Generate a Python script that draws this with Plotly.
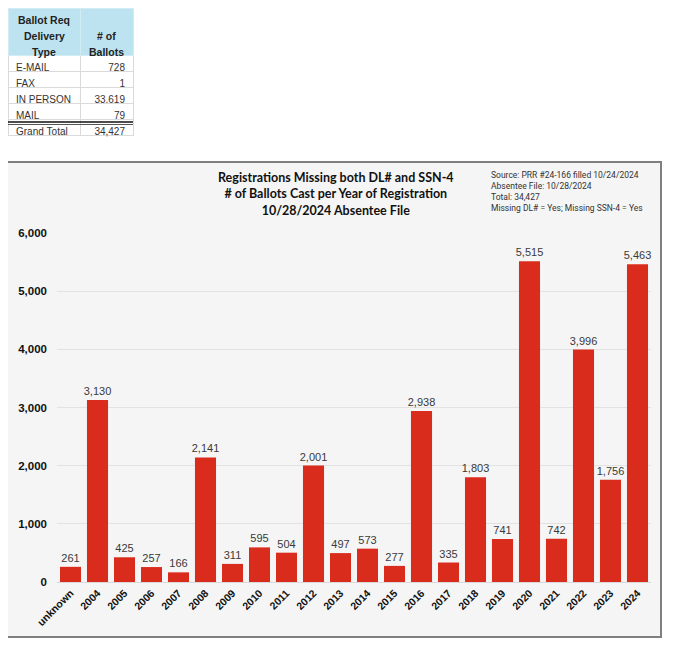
import plotly.graph_objects as go

W, H = 675, 647
OFF = 8  # page body margin offset (screen px)

# ---- data ----
years = ["unknown", "2004", "2005", "2006", "2007", "2008", "2009", "2010", "2011",
         "2012", "2013", "2014", "2015", "2016", "2017", "2018", "2019", "2020",
         "2021", "2022", "2023", "2024"]
ballots = [261, 3130, 425, 257, 166, 2141, 311, 595, 504, 2001, 497, 573, 277,
           2938, 335, 1803, 741, 5515, 742, 3996, 1756, 5463]
y_ticks = [0, 1000, 2000, 3000, 4000, 5000, 6000]

delivery_types = ["E-MAIL", "FAX", "IN\u00a0PERSON", "MAIL", "Grand\u00a0Total"]
delivery_counts = [728, 1, 33619, 79, 34427]
table_headers = ["Ballot Req<br>Delivery<br>Type", "# of<br>Ballots"]

title_lines = ["Registrations Missing both DL# and SSN-4",
               "# of Ballots Cast per Year of Registration",
               "10/28/2024 Absentee File"]
source_lines = ["Source: PRR #24-166 filled 10/24/2024",
                "Absentee File: 10/28/2024",
                "Total: 34,427",
                "Missing DL# = Yes; Missing SSN-4 = Yes"]


def px_x(v):
    return (v - OFF) / W


def px_y(v):
    return 1 - (v - OFF) / H


# table geometry (screen px)
TBL_LEFT, TBL_TOP = 8, 8
COL_W = [72, 53]
HDR_H = 47
ROW_H = 16
tbl_right = TBL_LEFT + sum(COL_W)
dbl_y = TBL_TOP + HDR_H + (len(delivery_types) - 1) * ROW_H + 3

fig = go.Figure()

fig.add_trace(go.Bar(
    x=years, y=ballots,
    marker=dict(color="#DA2C1D", line=dict(width=0)),
    texttemplate="%{y:,}", textposition="outside", constraintext="none",
    textfont=dict(family="Liberation Sans, Arial, sans-serif", size=11, color="#3a3a3a"),
    cliponaxis=False, hoverinfo="x+y",
))

fig.add_trace(go.Table(
    domain=dict(x=[px_x(TBL_LEFT), px_x(tbl_right)], y=[px_y(150), px_y(TBL_TOP)]),
    columnwidth=COL_W,
    header=dict(
        values=["" for _ in table_headers],
        fill_color="#BDE3F1",
        line_color="#D3EBF4",
        height=HDR_H,
    ),
    cells=dict(
        values=[delivery_types, delivery_counts],
        format=[None, ","],
        fill_color="white",
        line_color="#DADADA",
        align=["left", "right"],
        font=dict(family="Liberation Sans, Arial, sans-serif", size=10, color="#333333"),
        height=ROW_H,
    ),
))

# header labels: centred per line, bottom aligned like the spreadsheet
annotations = []
col_left = TBL_LEFT
for hdr, cw in zip(table_headers, COL_W):
    parts = hdr.split("<br>")
    for k, part in enumerate(reversed(parts)):
        annotations.append(dict(
            text=part, xref="paper", yref="paper",
            x=px_x(col_left + cw / 2), y=px_y(TBL_TOP + HDR_H - 3 - 16 * k),
            xanchor="center", yanchor="middle", showarrow=False,
            font=dict(family="Liberation Sans, Arial, sans-serif", size=10.5,
                      color="#222222", weight="bold")))
    col_left += cw

annotations += [
    dict(text="<br>".join(title_lines), xref="paper", yref="paper",
         x=px_x(336), y=px_y(168), xanchor="center", yanchor="top",
         align="center", showarrow=False,
         font=dict(family="Lato, sans-serif", size=12.5, color="#111111", weight="bold")),
    dict(text="<br>".join(source_lines), xref="paper", yref="paper",
         x=px_x(489), y=px_y(168), xanchor="left", yanchor="top",
         align="left", showarrow=False,
         font=dict(family="Roboto, sans-serif", size=8.5, color="#333333")),
]

fig.update_layout(
    width=W, height=H, autosize=False,
    margin=dict(l=0, r=0, t=0, b=0, pad=0, autoexpand=False),
    paper_bgcolor="white",
    plot_bgcolor="rgba(0,0,0,0)",
    showlegend=False,
    bargap=0.22,
    font=dict(family="Liberation Sans, Arial, sans-serif", color="#222222"),
    xaxis=dict(
        domain=[px_x(57), px_x(651)],
        automargin=False,
        tickangle=-45,
        tickfont=dict(size=10.5, color="#111111", weight="bold"),
        showgrid=False, showline=True, linecolor="#D9D9D9", linewidth=1,
        ticks="", ticklen=0,
    ),
    yaxis=dict(
        domain=[px_y(582), px_y(233)],
        automargin=False,
        range=[0, 6000],
        tickvals=y_ticks, tickformat=",",
        tickfont=dict(size=11.5, color="#111111", weight="bold"),
        ticklabelstandoff=9,
        showgrid=True, gridcolor="#E2E2E2", gridwidth=1,
        zeroline=False, ticks="", ticklen=0,
    ),
    shapes=[
        dict(type="rect", xref="paper", yref="paper",
             x0=px_x(7), x1=px_x(661), y0=px_y(637), y1=px_y(162),
             fillcolor="#F5F5F5", line=dict(color="#7F7F7F", width=2), layer="below"),
        dict(type="line", xref="paper", yref="paper",
             x0=px_x(TBL_LEFT), x1=px_x(tbl_right), y0=px_y(dbl_y), y1=px_y(dbl_y),
             line=dict(color="#111111", width=1.5)),
        dict(type="line", xref="paper", yref="paper",
             x0=px_x(TBL_LEFT), x1=px_x(tbl_right), y0=px_y(dbl_y + 2.5), y1=px_y(dbl_y + 2.5),
             line=dict(color="#555555", width=1)),
    ],
    annotations=annotations,
)

fig.write_html("out.html")
